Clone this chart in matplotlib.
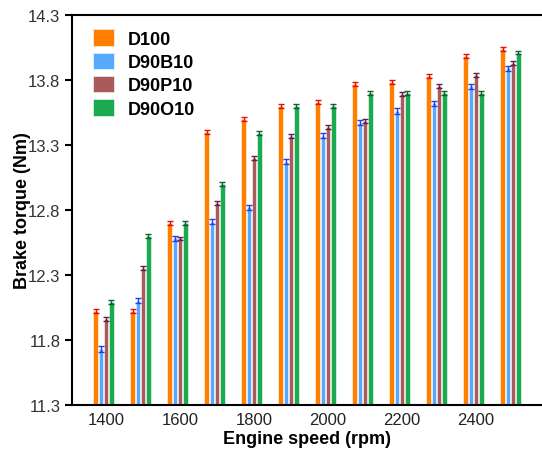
import numpy as np
import matplotlib
matplotlib.use('Agg')
import matplotlib.pyplot as plt
from matplotlib.ticker import MultipleLocator

plt.rcParams['font.family'] = ['Liberation Sans', 'DejaVu Sans']

# 轉速與扭矩數據
speed = [1400, 1500, 1600, 1700, 1800, 1900, 2000, 2100, 2200, 2300, 2400, 2500]
D100   = [12.02, 12.02, 12.70, 13.40, 13.50, 13.60, 13.63, 13.77, 13.78, 13.83, 13.98, 14.04]
D90B10 = [11.73, 12.10, 12.58, 12.71, 12.82, 13.17, 13.37, 13.47, 13.56, 13.62, 13.75, 13.89]
D90P10 = [11.96, 12.35, 12.58, 12.85, 13.20, 13.37, 13.44, 13.48, 13.69, 13.75, 13.84, 13.93]
D90O10 = [12.09, 12.60, 12.70, 13.00, 13.39, 13.60, 13.60, 13.70, 13.70, 13.70, 13.70, 14.01]
err = [0.015, 0.02, 0.015, 0.015]

names = ['D100', 'D90B10', 'D90P10', 'D90O10']
series = [D100, D90B10, D90P10, D90O10]
colors = ['#FF8000', '#55AAFF', '#AA5A5A', '#1AAA50']
ecolors = ['#E01010', '#2040F0', '#602050', '#106030']
offsets = [-28, -14, 0, 14]

fig = plt.figure(figsize=(5.42, 4.52), dpi=100)
ax = fig.add_axes([0.133, 0.102, 0.867, 0.863])

x = np.array(speed)
for vals, name, c, ec, off, e in zip(series, names, colors, ecolors, offsets, err):
    ax.bar(x + off, vals, width=12.5, color=c, edgecolor='#FFFFFF', linewidth=0.4,
           label=name, zorder=2)
    ax.errorbar(x + off, vals, yerr=e, fmt='none', ecolor=ec, elinewidth=1,
                capsize=2.5, capthick=1, zorder=3)

ax.set_xlim(1308, 2578)
ax.set_ylim(11.3, 14.3)
ax.xaxis.set_minor_locator(MultipleLocator(100))
ax.set_xticks([1400, 1600, 1800, 2000, 2200, 2400])
ax.set_yticks([11.3, 11.8, 12.3, 12.8, 13.3, 13.8, 14.3])
ax.set_yticklabels(['11.3', '11.8', '12.3', '12.8', '13.3', '13.8', '14.3'])

ax.tick_params(axis='x', which='major', direction='in', length=6, width=1.8,
               labelsize=12, pad=5, color='black', labelcolor='#222222')
ax.tick_params(axis='x', which='minor', direction='in', length=4, width=1.0, color='#555555')
ax.tick_params(axis='y', which='major', direction='out', length=5, width=1.5,
               labelsize=12, labelcolor='#333333')
ax.tick_params(axis='y', which='minor', left=False)

for s in ['left', 'bottom', 'top']:
    ax.spines[s].set_linewidth(1.5)
ax.spines['right'].set_visible(False)

ax.set_xlabel('Engine speed (rpm)', fontsize=13, fontweight='bold', labelpad=2)
ax.set_ylabel('Brake torque (Nm)', fontsize=13, fontweight='bold')
ax.yaxis.set_label_coords(-0.088, 0.5)

leg = ax.legend(loc='upper left', bbox_to_anchor=(0.018, 0.995), frameon=False,
                fontsize=13, handlelength=1.17, handleheight=1.0,
                handletextpad=0.72, labelspacing=0.28, borderaxespad=0.3)
for t in leg.get_texts():
    t.set_fontweight('bold')

fig.savefig('out.png', dpi=100)
